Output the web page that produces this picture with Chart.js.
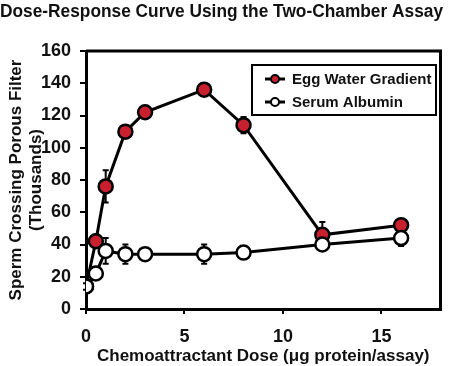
<!DOCTYPE html>
<html>
<head>
<meta charset="utf-8">
<script src="https://cdn.jsdelivr.net/npm/chart.js@4"></script>
<style>
  html, body { margin: 0; padding: 0; background: #fff; }
  #wrap { width: 450px; height: 366px; }
</style>
</head>
<body>
<div id="wrap"><canvas id="doseChart"></canvas></div>
<script>
const doses = [0, 0.5, 1, 2, 3, 6, 8, 12, 16];
const eggWater = [14, 42, 76, 110, 122, 136, 114, 46, 52];
const eggWaterErr = [0, 0, 10, 3, 2, 3, 5, 8, 3];
const albumin = [14, 22, 36, 34, 34, 34, 35, 40, 44];
const albuminErr = [2, 3, 8, 6, 2, 6, 2, 2, 5];
const xTicks = [0, 5, 10, 15];
const yTicks = [0, 20, 40, 60, 80, 100, 120, 140, 160];
const seriesNames = ['Egg Water Gradient', 'Serum Albumin'];

const FONT = "'Liberation Sans', Arial, sans-serif";
const RED = '#c8202f';

function toPoints(ys) {
  return doses.map((d, i) => ({ x: d, y: ys[i] }));
}

// error bars, drawn under the markers
const errorBars = {
  id: 'errorBars',
  beforeDatasetsDraw(chart) {
    const ctx = chart.ctx;
    const xs = chart.scales.x, ys = chart.scales.y;
    const errs = [eggWaterErr, albuminErr];
    ctx.save();
    ctx.strokeStyle = '#000';
    ctx.lineWidth = 2;
    chart.data.datasets.forEach((ds, k) => {
      ds.data.forEach((p, i) => {
        const e = errs[k][i];
        if (!e) return;
        const px = xs.getPixelForValue(p.x);
        const top = ys.getPixelForValue(p.y + e);
        const bot = ys.getPixelForValue(p.y - e);
        ctx.beginPath();
        ctx.moveTo(px, top); ctx.lineTo(px, bot);
        ctx.moveTo(px - 3, top); ctx.lineTo(px + 3, top);
        ctx.moveTo(px - 3, bot); ctx.lineTo(px + 3, bot);
        ctx.stroke();
      });
    });
    ctx.restore();
  }
};

// top/right frame and the boxed legend
const frameAndLegend = {
  id: 'frameAndLegend',
  afterDraw(chart) {
    const ctx = chart.ctx;
    const a = chart.chartArea;
    ctx.save();
    ctx.strokeStyle = '#000';
    ctx.lineWidth = 3;
    ctx.beginPath();
    ctx.moveTo(a.left, a.top);
    ctx.lineTo(a.right, a.top);
    ctx.lineTo(a.right, a.bottom);
    ctx.stroke();

    // legend box
    const lx = 252, ly = 65, lw = 184, lh = 50;
    ctx.lineWidth = 2;
    ctx.strokeRect(lx, ly, lw, lh);
    const fills = [RED, '#fff'];
    seriesNames.forEach((name, i) => {
      const y = ly + 14 + i * 23;
      ctx.lineWidth = 3;
      ctx.beginPath();
      ctx.moveTo(lx + 13, y); ctx.lineTo(lx + 33, y);
      ctx.stroke();
      ctx.beginPath();
      ctx.arc(lx + 23, y, 4, 0, Math.PI * 2);
      ctx.fillStyle = fills[i];
      ctx.fill();
      ctx.lineWidth = 2;
      ctx.stroke();
      ctx.fillStyle = '#111';
      ctx.font = 'bold 15px ' + FONT;
      ctx.textBaseline = 'middle';
      ctx.fillText(name, lx + 40, y + 1);
    });
    ctx.restore();
  }
};

new Chart(document.getElementById('doseChart'), {
  type: 'line',
  data: {
    datasets: [
      {
        label: seriesNames[0],
        data: toPoints(eggWater),
        borderColor: '#000',
        borderWidth: 3,
        backgroundColor: RED,
        pointBackgroundColor: RED,
        pointBorderColor: '#000',
        pointBorderWidth: 2.5,
        pointRadius: 7,
        order: 2
      },
      {
        label: seriesNames[1],
        data: toPoints(albumin),
        borderColor: '#000',
        borderWidth: 3,
        backgroundColor: '#fff',
        pointBackgroundColor: '#fff',
        pointBorderColor: '#000',
        pointBorderWidth: 2.5,
        pointRadius: 7,
        order: 1
      }
    ]
  },
  options: {
    responsive: true,
    maintainAspectRatio: false,
    animation: false,
    layout: { padding: { left: 0, right: 7, top: 0, bottom: 0 } },
    plugins: {
      legend: { display: false },
      tooltip: { enabled: false },
      title: {
        display: true,
        text: 'Dose-Response Curve Using the Two-Chamber Assay',
        align: 'start',
        color: '#111',
        font: { family: FONT, size: 17.5, weight: 'bold' },
        padding: { top: 2, bottom: 28 }
      }
    },
    scales: {
      x: {
        type: 'linear',
        min: 0,
        max: 18,
        afterBuildTicks: s => { s.ticks = xTicks.map(v => ({ value: v })); },
        afterFit: s => { s.height = 57; },
        border: { display: true, color: '#000', width: 3 },
        grid: { drawOnChartArea: false, drawTicks: true, tickLength: 5, color: '#000', lineWidth: 2 },
        ticks: { color: '#111', padding: 12, font: { family: FONT, size: 18, weight: 'bold' } },
        title: {
          display: true,
          text: 'Chemoattractant Dose (\u03bcg protein/assay)',
          color: '#111',
          font: { family: FONT, size: 17, weight: 'bold', lineHeight: 1.1 },
          padding: { top: 0, bottom: 0 }
        }
      },
      y: {
        min: 0,
        max: 160,
        afterBuildTicks: s => { s.ticks = yTicks.map(v => ({ value: v })); },
        afterFit: s => { s.width = 86; },
        border: { display: true, color: '#000', width: 3 },
        grid: { drawOnChartArea: false, drawTicks: true, tickLength: 6, color: '#000', lineWidth: 2 },
        ticks: { color: '#111', padding: 9, font: { family: FONT, size: 18, weight: 'bold' } },
        title: {
          display: true,
          text: ['Sperm Crossing Porous Filter', '(Thousands)'],
          color: '#111',
          font: { family: FONT, size: 17, weight: 'bold', lineHeight: 1.2 },
          padding: { top: 6, bottom: 0 }
        }
      }
    }
  },
  plugins: [errorBars, frameAndLegend]
});
</script>
</body>
</html>
